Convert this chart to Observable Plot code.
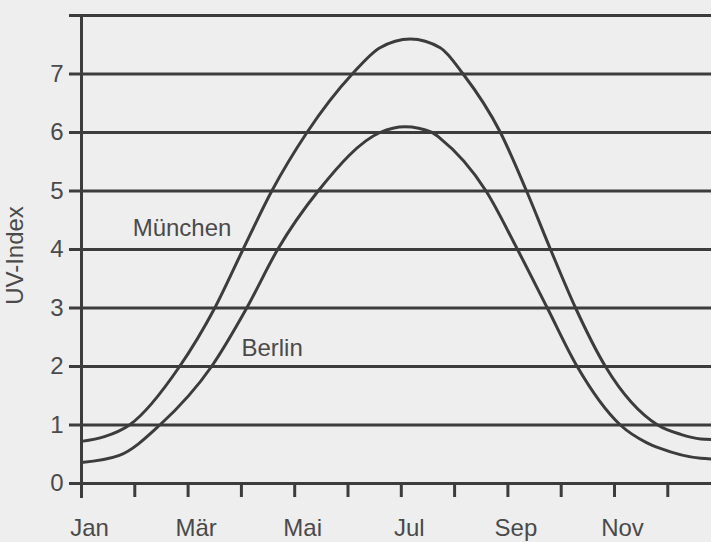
<!DOCTYPE html>
<html>
<head>
<meta charset="utf-8">
<script src="https://cdn.jsdelivr.net/npm/d3@7"></script>
<script src="https://cdn.jsdelivr.net/npm/@observablehq/plot@0.6"></script>
<style>
  html, body { margin: 0; padding: 0; background: #eeeeee; }
  #chart svg { display: block; }
</style>
</head>
<body>
<div id="chart"></div>
<script>
// Month index (0 = Jan) and UV-Index values
const monthNames = ["Jan", "Feb", "Mär", "Apr", "Mai", "Jun", "Jul", "Aug", "Sep", "Okt", "Nov", "Dez"];
const monthTicks = [0, 1, 2, 3, 4, 5, 6, 7, 8, 9, 10, 11];
const uvTicks = [0, 1, 2, 3, 4, 5, 6, 7, 8];
const uvTickLabels = ["0", "1", "2", "3", "4", "5", "6", "7", ""];

const muenchenMonth = [0, 0.43, 0.9, 1.84, 2.5, 3.03, 3.57, 4.23, 5.08, 5.6, 6.17, 6.73, 7.16, 7.86, 8.35, 8.8, 9.27, 9.83, 10.81, 11.24, 11.62, 11.82];
const muenchenUV    = [0.72, 0.8, 1.0, 2.0, 3.0, 4.0, 5.0, 6.0, 7.0, 7.45, 7.6, 7.45, 7.0, 6.0, 5.0, 4.0, 3.0, 2.0, 1.0, 0.84, 0.76, 0.75];

const berlinMonth = [0, 0.71, 1.47, 2.44, 3.1, 3.68, 4.44, 5.6, 6.07, 6.58, 6.73, 7.59, 8.18, 8.74, 9.3, 10.11, 10.6, 10.86, 11.62, 11.82];
const berlinUV    = [0.36, 0.48, 1.0, 2.0, 3.0, 4.0, 5.0, 6.0, 6.1, 6.0, 5.9, 5.0, 4.0, 3.0, 2.0, 1.0, 0.7, 0.6, 0.43, 0.42];

const seriesNames = ["München", "Berlin"];

const muenchen = muenchenMonth.map((m, i) => ({m, v: muenchenUV[i]}));
const berlin = berlinMonth.map((m, i) => ({m, v: berlinUV[i]}));

const ink = "#3c3c3c";
const textInk = "#4a4a4a";
const font = "'Liberation Sans', Arial, sans-serif";
const fs = 24;

const chart = Plot.plot({
  width: 711,
  height: 542,
  marginLeft: 81,
  marginRight: 0,
  marginTop: 15,
  marginBottom: 59,
  x: {domain: [0, 11.82]},
  y: {domain: [0, 8]},
  style: {background: "transparent", fontFamily: font, fontSize: fs + "px", color: ink},
  marks: [
    Plot.ruleY(uvTicks, {stroke: ink, strokeWidth: 3}),
    Plot.ruleX([0], {y1: -0.256, y2: 8, stroke: ink, strokeWidth: 3}),
    Plot.axisY({
      ticks: uvTicks,
      tickSize: 12,
      tickPadding: 6,
      strokeWidth: 3,
      stroke: ink,
      fill: textInk,
      fontSize: fs,
      tickFormat: (d) => uvTickLabels[uvTicks.indexOf(d)],
      label: null
    }),
    Plot.axisX({
      ticks: monthTicks,
      tickSize: 14,
      strokeWidth: 3,
      stroke: ink,
      text: null,
      label: null
    }),
    Plot.axisX({
      ticks: monthTicks,
      tickSize: 0,
      tickPadding: 35,
      fill: textInk,
      fontSize: fs,
      dx: 8,
      tickFormat: (d) => (d % 2 === 0 ? monthNames[d] : ""),
      label: null
    }),
    Plot.text(["UV-Index"], {frameAnchor: "left", textAnchor: "middle", dx: -66, dy: 6, rotate: -90, fill: textInk, fontSize: fs}),
    Plot.line(muenchen, {x: "m", y: "v", curve: "monotone-x", stroke: ink, strokeWidth: 3}),
    Plot.line(berlin, {x: "m", y: "v", curve: "monotone-x", stroke: ink, strokeWidth: 3}),
    Plot.text([{m: 0.96, v: 4.36, t: seriesNames[0]}, {m: 3.0, v: 2.31, t: seriesNames[1]}],
      {x: "m", y: "v", text: "t", textAnchor: "start", fill: textInk, fontSize: fs})
  ]
});
document.getElementById("chart").append(chart);
</script>
</body>
</html>
